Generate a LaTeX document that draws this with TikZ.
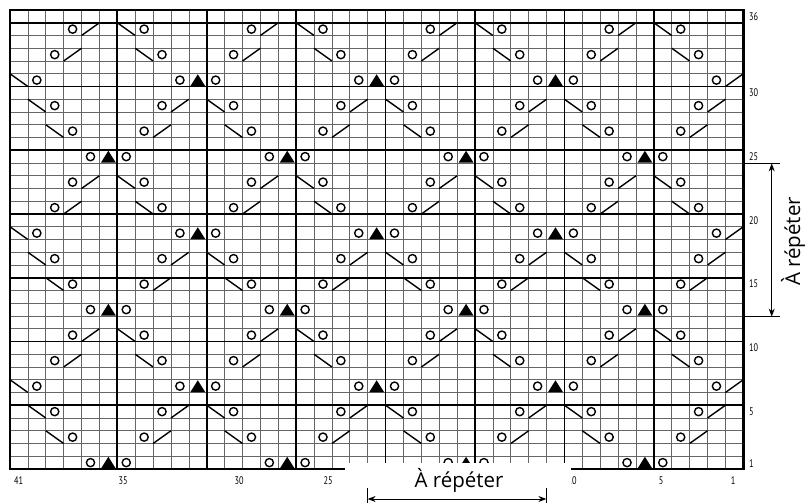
\documentclass[tikz,border=0pt]{standalone}
\usepackage{fontspec}
\setmainfont{PT Sans}
\newfontfamily\repfont{Open Sans}
\usetikzlibrary{arrows.meta}
\tikzset{
  gridthin/.style={line width=0.7pt, draw=black!60},
  gridthick/.style={line width=1.8pt, draw=black},
  gridborder/.style={line width=2.6pt, draw=black},
  sym/.style={line width=1.4pt, draw=black},
  numlab/.style={inner sep=0pt, font=\fontsize{11}{11}\selectfont},
  reptext/.style={inner sep=0pt, font=\repfont\fontsize{20.5}{20.5}\selectfont},
  repline/.style={line width=0.9pt, draw=black},
  reparrow/.style={line width=0.9pt, draw=black, {Stealth[length=8pt,width=6pt]}-{Stealth[length=8pt,width=6pt]}}
}
% chart cell symbols: column c (41 left .. 1 right), row r (1 bottom .. 36 top)
\newcommand\symO[2]{\draw[sym] ({41-#1+0.5},{36-#2+0.5}) circle[radius=4.1pt];}
\newcommand\symR[2]{\draw[sym] ({41-#1},{37-#2}) -- ({42-#1},{36-#2});}
\newcommand\symL[2]{\draw[sym] ({41-#1},{36-#2}) -- ({42-#1},{37-#2});}
\newcommand\symT[2]{\fill[black] ({41-#1+0.08},{37-#2-0.02}) -- ({41-#1+0.92},{37-#2-0.02}) -- ({41-#1+0.5},{36-#2+0.04}) -- cycle;}
\newcommand\motif[2]{%
  \pgfmathtruncatemacro\kPa{#2+1}\pgfmathtruncatemacro\kPb{#2+2}\pgfmathtruncatemacro\kPc{#2+3}%
  \pgfmathtruncatemacro\kMa{#2-1}\pgfmathtruncatemacro\kMb{#2-2}\pgfmathtruncatemacro\kMc{#2-3}%
  \pgfmathtruncatemacro\kRa{#1-2}\pgfmathtruncatemacro\kRb{#1-4}%
  \symO{\kPa}{#1}\symO{\kMa}{#1}%
  \ifnum#2=41\relax \symL{#2}{#1}\else\ifnum#2=1\relax \symR{#2}{#1}\else \symT{#2}{#1}\fi\fi
  \symO{\kPb}{\kRa}\symR{\kPa}{\kRa}\symL{\kMa}{\kRa}\symO{\kMb}{\kRa}%
  \symO{\kPc}{\kRb}\symR{\kPb}{\kRb}\symL{\kMb}{\kRb}\symO{\kMc}{\kRb}%
}
\newcommand\nlab[1]{\scalebox{0.75}[1]{#1}}
\begin{document}
\begin{tikzpicture}[x=1pt,y=-1pt]
\useasboundingbox (0,0) rectangle (806,503);
\fill[white] (0,0) rectangle (806,503);
\begin{scope}[shift={(10pt,-10pt)}, x=17.885pt, y=-12.75pt]
  \foreach \i in {0,...,41} \draw[gridthin] (\i,0) -- (\i,36);
  \foreach \j in {0,...,36} \draw[gridthin] (0,\j) -- (41,\j);
  \foreach \i in {6,11,16,21,26,31,36} \draw[gridthick] (\i,0) -- (\i,36);
  \foreach \j in {1,6,11,16,21,26,31} \draw[gridthick] (0,\j) -- (41,\j);
  \begin{scope}
    \clip (0,0) rectangle (41,36);
    \foreach \R in {37,25,13,1} {\foreach \c in {36,26,16,6} {\motif{\R}{\c}}}
    \foreach \R in {31,19,7} {\foreach \c in {41,31,21,11,1} {\motif{\R}{\c}}}
  \end{scope}
  \draw[gridborder] (0,0) rectangle (41,36);
\end{scope}
% row numbers
\node[numlab, anchor=west] (r36) at (749,16.4) {\nlab{36}};
\node[numlab, anchor=west] (r30) at (749,92.9) {\nlab{30}};
\node[numlab, anchor=west] (r25) at (749,156.6) {\nlab{25}};
\node[numlab, anchor=west] (r20) at (749,220.4) {\nlab{20}};
\node[numlab, anchor=west] (r15) at (749,284.1) {\nlab{15}};
\node[numlab, anchor=west] (r10) at (749,347.9) {\nlab{10}};
\node[numlab, anchor=west] (r5) at (749,411.6) {\nlab{5}};
\node[numlab, anchor=west] (r1) at (749,463.6) {\nlab{1}};
% column numbers
\node[numlab] (c41) at (18.5,481) {\nlab{41}};
\node[numlab] (c35) at (123,481) {\nlab{35}};
\node[numlab] (c30) at (239,481) {\nlab{30}};
\node[numlab] (c25) at (328,481) {\nlab{25}};
\node[numlab] (c10) at (572,481) {\nlab{10}};
\node[numlab] (c5) at (661,481) {\nlab{5}};
\node[numlab] (c1) at (733,481) {\nlab{1}};
% white label band
\fill[white] (345,463) rectangle (571,503);
% bottom repeat
\coordinate (bl) at (367.6,499);
\coordinate (br) at (546.4,499);
\coordinate (blt) at (367.6,488);
\coordinate (brt) at (546.4,488);
\coordinate (blb) at (367.6,503);
\coordinate (brb) at (546.4,503);
\draw[repline] (blt) -- (blb);
\draw[repline] (brt) -- (brb);
\draw[reparrow] (bl) -- (br);
\node[reptext] (tb) at (459,480) {À répéter};
% right repeat
\coordinate (rt) at (771.7,163.4);
\coordinate (rb) at (771.7,316.6);
\coordinate (rtl) at (743,163.4);
\coordinate (rtr) at (780,163.4);
\coordinate (rbl) at (743,316.6);
\coordinate (rbr) at (780,316.6);
\draw[repline] (rtl) -- (rtr);
\draw[repline] (rbl) -- (rbr);
\draw[reparrow] (rt) -- (rb);
\node[reptext, rotate=90] (tr) at (793,241.5) {À répéter};
\end{tikzpicture}
\end{document}
